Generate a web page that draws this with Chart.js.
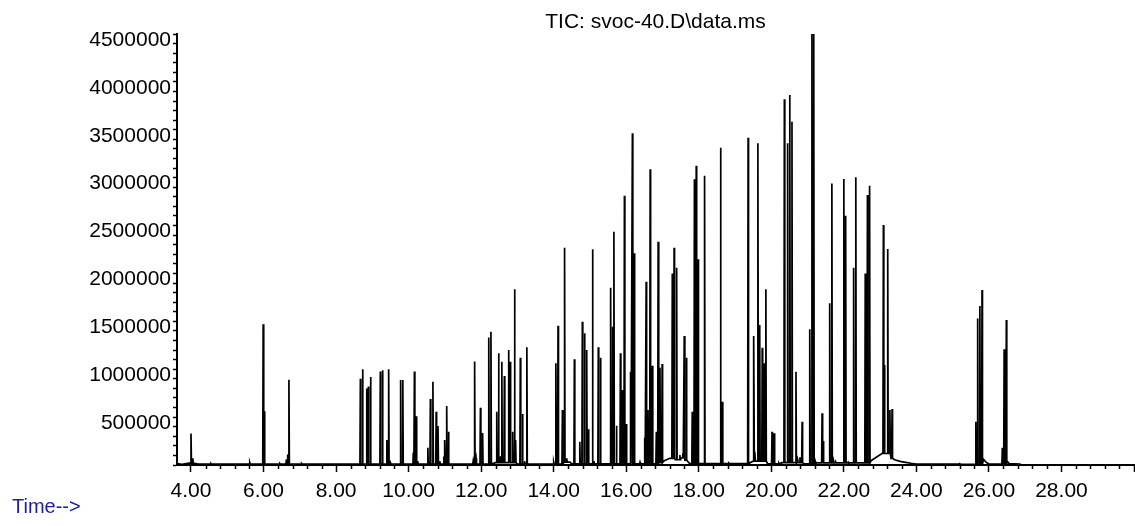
<!DOCTYPE html>
<html>
<head>
<meta charset="utf-8">
<script src="https://cdn.jsdelivr.net/npm/chart.js@4/dist/chart.umd.min.js"></script>
<style>
  html, body { margin: 0; padding: 0; background: #fff; }
  canvas { display: block; }
</style>
</head>
<body>
<canvas id="tic" width="1135" height="526"></canvas>
<script>
// chart title and axes
const chartTitle = 'TIC: svoc-40.D\\data.ms';
const xAxisName = 'Time-->';
const xMin = 3.614;
const xMax = 30.0;
const xMajorTicks = [4, 6, 8, 10, 12, 14, 16, 18, 20, 22, 24, 26, 28, 30];
const xMinorStep = 0.4;
const yMax = 4500000;
const yMajorTicks = [500000, 1000000, 1500000, 2000000, 2500000, 3000000, 3500000, 4000000, 4500000];
const yMinorStep = 100000;

// baseline (min, abundance)
const baseTimes = [3.614, 3.75, 3.95, 4.2, 12.4, 13.0, 14.3, 14.5, 16.9, 17.05, 17.2, 17.35, 17.5, 17.62, 17.75,
  19.5, 19.9, 20.3, 20.9, 21.2, 22.75, 23.05, 23.3, 23.4, 23.55, 23.7, 23.85, 24.0, 25.3,
  25.85, 25.92, 26.0, 26.5, 26.56, 26.85, 26.9];
const baseLevels = [15000, 8000, 20000, 10000, 25000, 10000, 30000, 12000, 25000, 45000, 70000, 55000, 75000, 50000, 15000,
  40000, 12000, 25000, 12000, 22000, 45000, 120000, 70000, 55000, 38000, 28000, 18000, 10000, 8000,
  60000, 30000, 10000, 40000, 15000, 10000, 0];

// peaks (min, abundance)
const peakTimes = [4.00, 4.05, 4.55, 5.62, 5.99, 6.02, 6.45, 6.63, 6.66, 6.70, 7.05,
  8.67, 8.73, 8.84, 8.89, 8.95, 9.22, 9.28, 9.40, 9.45, 9.49, 9.78, 9.84,
  10.13, 10.16, 10.21, 10.25, 10.53, 10.60, 10.67, 10.76, 10.81, 10.86, 10.97, 11.00, 11.05, 11.10,
  11.78, 11.82, 11.86, 11.98, 12.04, 12.21, 12.27, 12.43, 12.48, 12.52, 12.57, 12.64, 12.76, 12.80,
  12.87, 12.92, 12.95, 13.08, 13.14, 13.20, 13.26,
  14.00, 14.06, 14.12, 14.24, 14.30, 14.36, 14.45, 14.57, 14.72, 14.79, 14.85, 14.91, 14.96,
  15.07, 15.11, 15.23, 15.29, 15.57, 15.62, 15.66, 15.73, 15.84, 15.89, 15.95,
  16.00, 16.12, 16.17, 16.22, 16.38, 16.51, 16.55, 16.60, 16.66, 16.72, 16.83, 16.88, 16.93, 16.99,
  17.27, 17.32, 17.39, 17.48, 17.56, 17.60, 17.66, 17.82, 17.88, 17.93, 17.98, 18.16, 18.60, 18.65, 18.83,
  19.36, 19.52, 19.55, 19.63, 19.68, 19.75, 19.81, 19.85, 20.02, 20.08, 20.21,
  20.36, 20.45, 20.51, 20.57, 20.68, 20.72, 20.79, 20.85, 21.06, 21.12, 21.17, 21.21,
  21.40, 21.43, 21.61, 21.67, 21.72, 21.78, 22.00, 22.05, 22.12, 22.27, 22.33,
  22.59, 22.65, 22.71, 23.09, 23.12, 23.21, 23.27, 23.33,
  25.20, 25.64, 25.69, 25.75, 25.81, 26.37, 26.42, 26.48];
const peakHeights = [330000, 70000, 15000, 25000, 1470000, 560000, 15000, 60000, 110000, 890000, 15000,
  900000, 1000000, 800000, 820000, 920000, 975000, 990000, 260000, 1000000, 30000, 887000, 887000,
  130000, 975000, 510000, 40000, 180000, 690000, 870000, 557000, 407000, 40000, 90000, 260000, 616000, 348000,
  40000, 1080000, 70000, 598000, 333000, 1330000, 1392000, 557000, 1166000, 90000, 1079000, 929000, 1200000, 1079000,
  348000, 1834000, 261000, 1120000, 532000, 40000, 1229000,
  30000, 1062000, 1455000, 574000, 2269000, 70000, 30000, 1103000, 243000, 1496000, 1375000, 1200000, 372000,
  2252000, 40000, 1229000, 1120000, 1851000, 1444000, 2436000, 410000, 1166000, 783000, 2812000,
  428000, 974000, 3463000, 2210000, 30000, 285000, 1914000, 574000, 3087000, 1037000, 348000, 2332000, 1016000, 1054000,
  2000000, 2269000, 2060000, 104000, 120000, 1347000, 1120000, 557000, 2983000, 3125000, 2147000, 3021000, 3313000, 661000, 20000,
  3417000, 1347000, 139000, 3359000, 1462000, 1225000, 1062000, 1834000, 348000, 331000, 20000,
  3820000, 3360000, 3863000, 3584000, 974000, 60000, 80000, 452000, 1417000, 4500000, 4500000, 40000,
  540000, 250000, 1688000, 2940000, 40000, 30000, 2986000, 2603000, 30000, 2060000, 3004000,
  2000000, 2819000, 2916000, 2506000, 1044000, 2255000, 574000, 585000,
  12000, 452000, 1530000, 1660000, 1827000, 181000, 1208000, 1514000];

document.addEventListener('DOMContentLoaded', () => {
  const fontFamily = "'Liberation Sans', Arial, sans-serif";

  // baseline level held from the last baseline point
  function levelAt(t) {
    let lv = baseLevels[0];
    baseTimes.forEach((bt, i) => { if (bt <= t) lv = baseLevels[i]; });
    return lv;
  }

  // trace: baseline points + each peak as a narrow spike
  const trace = baseTimes.map((t, i) => ({ x: t, y: baseLevels[i] }));
  peakTimes.forEach((t, i) => {
    const b = levelAt(t);
    trace.push({ x: t - 0.012, y: b }, { x: t, y: peakHeights[i] }, { x: t + 0.012, y: b });
  });
  trace.push({ x: xMax, y: 0 });
  trace.sort((a, b) => a.x - b.x);

  // minor ticks on x axis + axis caption
  const minorTicks = {
    id: 'minorTicks',
    afterDraw(chart) {
      const xs = chart.scales.x;
      const c = chart.ctx;
      const yb = xs.top;
      c.save();
      c.strokeStyle = '#000';
      c.lineWidth = 1.5;
      c.beginPath();
      for (let k = 0; k < 70; k++) {
        const v = 4 + k * xMinorStep;
        if (v > xMax + 0.001) break;
        if (Math.abs(v / 2 - Math.round(v / 2)) < 0.001) continue;
        const px = Math.round(xs.getPixelForValue(v)) + 0.5;
        c.moveTo(px, yb);
        c.lineTo(px, yb + 4);
      }
      c.stroke();
      c.fillStyle = '#1e1e9c';
      c.font = '20px ' + fontFamily;
      c.textBaseline = 'middle';
      c.textAlign = 'left';
      c.fillText(xAxisName, 12, 507);
      c.restore();
    }
  };

  new Chart(document.getElementById('tic').getContext('2d'), {
    type: 'line',
    data: {
      datasets: [{
        data: trace,
        borderColor: '#000',
        borderWidth: 1.7,
        pointRadius: 0,
        tension: 0,
        fill: false
      }]
    },
    options: {
      responsive: false,
      animation: false,
      events: [],
      layout: { padding: { top: 0, right: 1, bottom: 0, left: 0 } },
      plugins: {
        legend: { display: false },
        tooltip: { enabled: false },
        title: {
          display: true,
          text: chartTitle,
          fullSize: false,
          color: '#000',
          font: { family: fontFamily, size: 21, weight: 'normal', lineHeight: 1 },
          padding: { top: 11.5, bottom: 1.5 }
        }
      },
      scales: {
        x: {
          type: 'linear',
          min: xMin,
          max: xMax,
          afterBuildTicks: s => { s.ticks = xMajorTicks.map(v => ({ value: v })); },
          afterFit: s => { s.height = 61; s.paddingLeft = 0; s.paddingRight = 0; },
          border: { display: true, color: '#000', width: 2 },
          grid: { drawOnChartArea: false, drawTicks: true, tickLength: 7, tickColor: '#000', tickWidth: 1.5 },
          ticks: {
            autoSkip: false,
            maxRotation: 0,
            color: '#000',
            padding: 7,
            font: { family: fontFamily, size: 21 },
            callback: v => (v < 29 ? Number(v).toFixed(2) : '')
          }
        },
        y: {
          min: 0,
          max: yMax,
          afterBuildTicks: s => {
            const t = [];
            for (let k = 0; k * yMinorStep <= yMax; k++) t.push({ value: k * yMinorStep });
            s.ticks = t;
          },
          afterFit: s => { s.width = 177; },
          border: { display: true, color: '#000', width: 2 },
          grid: { drawOnChartArea: false, drawTicks: true, tickLength: 4, tickColor: '#000', tickWidth: 1.5 },
          ticks: {
            autoSkip: false,
            color: '#000',
            padding: 2,
            labelOffset: 6,
            font: { family: fontFamily, size: 21 },
            callback: v => (yMajorTicks.includes(v) ? String(v) : '')
          }
        }
      }
    },
    plugins: [minorTicks]
  });
});
</script>
</body>
</html>
